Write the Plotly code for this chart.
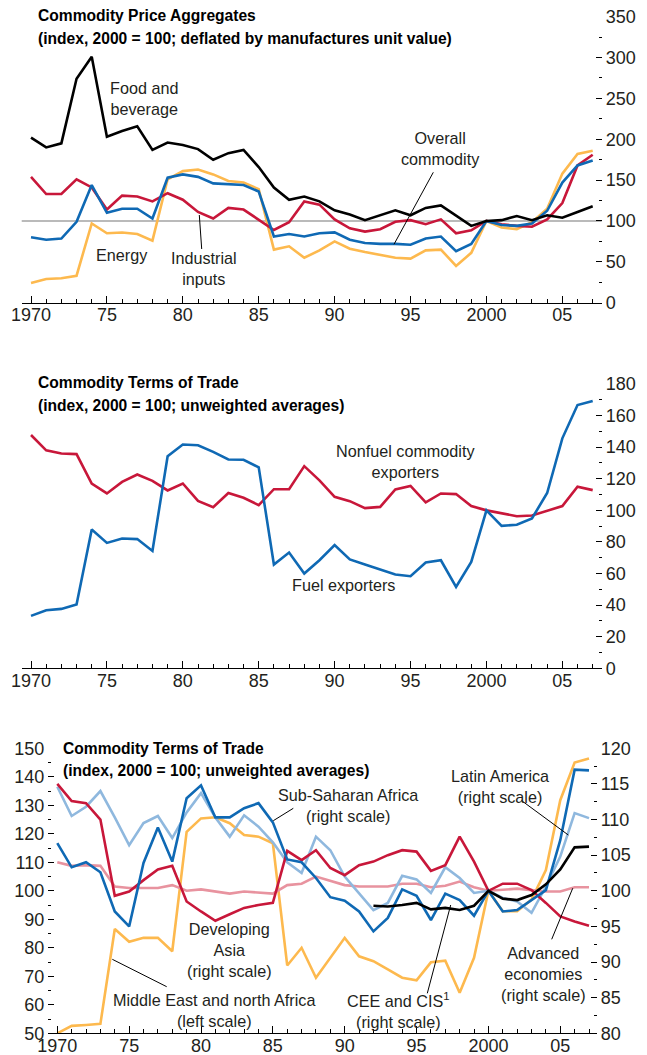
import plotly.graph_objects as go

# Page body has an 8px default margin: the figure is sized to fit the 647x1055 window.
OFF = 8
W, H = 647 - OFF, 1055 - OFF
FONT = "Liberation Sans, Arial, sans-serif"
INK = "#231f20"

years = list(range(1970, 2008))

# Panel 1: Commodity price aggregates (index, 2000 = 100)
food = [202, 190, 195, 274, 301, 203, 210, 216, 187, 196, 193, 188, 175, 183, 187, 166, 141, 126, 130, 124,
        113, 108, 101, 107, 113, 107, 116, 119, 107, 94, 100, 101, 106, 101, 107, 104, 111, 118]
energy = [24, 29, 30, 33, 97, 85, 86, 84, 76, 151, 161, 163, 157, 149, 147, 139, 65, 69, 55, 64,
          75, 66, 62, 58.5, 55, 54, 64, 65, 45, 61, 100, 92, 90, 98.5, 115, 158, 182, 186]
industrial = [154, 133, 133, 151, 141, 114, 131, 130, 124, 134, 126, 111, 103, 116, 114, 102, 89, 98.5, 124, 120,
              102, 91, 87, 90, 99, 101, 96, 102, 85, 88.5, 100, 96, 94, 93, 102, 122, 168, 181]
overall = [80, 77, 78.5, 99, 144, 110, 115, 115, 103, 153, 157, 154, 146, 145, 144, 136, 81, 84, 81, 85,
           86, 77, 73, 72, 72, 71, 78.5, 81, 63, 72, 100, 95, 94, 97, 112.5, 147, 168, 174]

# Panel 2: Commodity terms of trade by exporter type
nonfuel = [147.7, 138, 136, 135.6, 117, 110.7, 118, 122.7, 118.7, 112.6, 117, 106, 102, 111, 108, 103.3, 113.4, 113.4, 128, 119,
           108.6, 105.8, 101.4, 102.2, 113.2, 115.5, 105, 110.7, 110.3, 102.7, 100, 98, 96.3, 96.7, 99.7, 102.7, 115, 112.8]
fuel = [33.2, 36.8, 37.6, 40.4, 87.9, 79.4, 82.2, 81.8, 74.3, 134.3, 141.7, 141.2, 137, 132.2, 132, 127.2, 65.7, 73.3, 60, 68.4,
        78, 68.9, 65.7, 62.5, 59.4, 58.3, 67, 68.4, 51.5, 67.4, 100, 90.2, 90.9, 94.9, 111, 145.6, 166.7, 169.2]

# Panel 3: Commodity terms of trade by region
mena = [50, 52.6, 52.9, 53.3, 86.6, 82.1, 83.5, 83.5, 78.8, 120.7, 125.4, 125.8, 123.7, 119.6, 119, 116.7, 73.8, 80, 69.5, 76.5,
        83.5, 77, 75.3, 72.4, 69.5, 68.6, 74.9, 75.5, 64.2, 76.5, 100, 92.8, 92.8, 96.9, 107.3, 131.8, 145, 146.4]
ssa = [106.7, 103.3, 104, 102.6, 97.1, 95, 103.9, 108.9, 104.1, 113, 114.8, 110.3, 110.3, 111.6, 112.3, 109.6, 104.4, 104, 101.8, 99.1,
       98.6, 97.1, 94.3, 96.2, 100.2, 99.3, 95.9, 99.6, 98.7, 96.5, 100, 97.1, 97.3, 98.7, 100.1, 107.1, 117, 116.9]
latam = [114.6, 110.5, 111.8, 114, 110.3, 106.4, 109.5, 110.5, 107.4, 111, 113.7, 110.3, 107.6, 110.6, 109, 106.8, 104, 102.5, 107.6, 105.7,
         102, 99.7, 97.3, 98.3, 102.1, 101.6, 99.7, 103.3, 101.8, 99.7, 100, 99, 98.5, 96.9, 100.6, 104.8, 110.9, 110.2]
asia = [115, 112.6, 112.3, 110, 99.3, 99.9, 101.5, 103, 103.5, 98.5, 97.1, 95.8, 96.7, 97.6, 98, 98.3, 105.6, 104.3, 105.7, 103.2,
        102.2, 103.6, 104.1, 105, 105.7, 105.5, 102.8, 103.6, 107.6, 104.1, 100, 101, 101, 100.1, 98.3, 96.4, 95.7, 95.1]
advanced = [104, 103.5, 103.6, 103.5, 100.6, 100.4, 100.4, 100.4, 100.8, 100, 100.2, 99.9, 99.6, 99.9, 99.7, 99.6, 100.8, 101, 102, 101.4,
            100.8, 100.6, 100.6, 100.6, 101, 101, 100.5, 100.7, 101.3, 100.5, 100, 100.2, 100.3, 100.1, 99.9, 99.9, 100.5, 100.5]
cee_years = list(range(1992, 2008))
cee = [97.9, 97.8, 98, 98.3, 97.4, 97.6, 97.3, 97.9, 100, 98.9, 98.7, 99.4, 100.9, 103, 106.1, 106.2]

x_tickvals = [1970, 1975, 1980, 1985, 1990, 1995, 2000, 2005]
x_ticktext = ["1970", "75", "80", "85", "90", "95", "2000", "05"]

BLACK = "#000000"
YELLOW = "#fdb94e"
RED = "#c8173a"
BLUE = "#0f69b4"
LBLUE = "#8fb8de"
PINK = "#e8939f"
LW = 2.6


def fx(px):
    return (px - OFF) / W


def fy(py):
    return 1 - (py - OFF) / H


fig = go.Figure()


def line(x, y, color, xa, ya, width=LW):
    fig.add_trace(go.Scatter(x=x, y=y, mode="lines", line=dict(color=color, width=width),
                             xaxis=xa, yaxis=ya, showlegend=False, hoverinfo="skip"))


# Panel 1
line(years, energy, YELLOW, "x", "y")
line(years, industrial, RED, "x", "y")
line(years, overall, BLUE, "x", "y")
line(years, food, BLACK, "x", "y")
# Panel 2
line(years, nonfuel, RED, "x2", "y3")
line(years, fuel, BLUE, "x2", "y3")
# Panel 3
line(years, advanced, PINK, "x3", "y6")
line(years, mena, YELLOW, "x3", "y5")
line(years, latam, LBLUE, "x3", "y6")
line(years, asia, RED, "x3", "y6")
line(years, ssa, BLUE, "x3", "y6")
line(cee_years, cee, BLACK, "x3", "y6")

tickfont = dict(family=FONT, size=18, color=INK)


def xaxis(domain, rng, anchor):
    return dict(domain=domain, range=rng, anchor=anchor, tickmode="array", tickvals=x_tickvals,
                ticktext=x_ticktext, ticks="inside", ticklen=7, tickwidth=1.2, tickcolor=BLACK,
                minor=dict(tick0=1970, dtick=1, ticks="inside", ticklen=4, tickwidth=1.1, tickcolor=BLACK),
                showline=True, linecolor=BLACK, linewidth=1.3, showgrid=False, zeroline=False,
                tickfont=tickfont, ticklabelstandoff=-4, ticklabeloverflow="allow",
                automargin=False, fixedrange=True)


def yaxis(domain, rng, anchor, side, dtick, minor, labels, overlaying=None):
    d = dict(domain=domain, range=rng, anchor=anchor, side=side, tickmode="linear", tick0=rng[0], dtick=dtick,
             ticks="inside", ticklen=6, tickwidth=1.2, tickcolor=BLACK,
             minor=dict(tick0=rng[0], dtick=minor, ticks="inside", ticklen=3, tickwidth=1.1, tickcolor=BLACK),
             showline=False, showgrid=False, zeroline=False, showticklabels=labels,
             tickfont=tickfont, ticklabelstandoff=3, ticklabeloverflow="allow",
             automargin=False, fixedrange=True)
    if overlaying:
        d["overlaying"] = overlaying
    return d


P12_X = [fx(21.7), fx(601.7)]
P12_RANGE = [1969.387, 2007.593]
P1_Y = [fy(302.7), fy(16.7)]
P2_Y = [fy(668.3), fy(384)]
P3_X = [fx(48.3), fx(596.7)]
P3_RANGE = [1969.374, 2007.536]
P3_Y = [fy(1033.3), fy(748.3)]

fig.update_layout(
    width=W, height=H, margin=dict(l=0, r=0, t=0, b=0),
    paper_bgcolor="white", plot_bgcolor="white",
    font=dict(family=FONT, color=INK),
    xaxis=xaxis(P12_X, P12_RANGE, "y"),
    yaxis=yaxis(P1_Y, [0, 350], "x", "right", 50, 25, True),
    yaxis2=yaxis(P1_Y, [0, 350], "x", "left", 50, 25, False, overlaying="y"),
    xaxis2=xaxis(P12_X, P12_RANGE, "y3"),
    yaxis3=yaxis(P2_Y, [0, 180], "x2", "right", 20, 10, True),
    yaxis4=yaxis(P2_Y, [0, 180], "x2", "left", 20, 10, False, overlaying="y3"),
    xaxis3=xaxis(P3_X, P3_RANGE, "y5"),
    yaxis5=yaxis(P3_Y, [50, 150], "x3", "left", 10, 5, True),
    yaxis6=yaxis(P3_Y, [80, 120], "x3", "right", 5, 2.5, True, overlaying="y5"),
)

# Reference line at 100 in panel 1
fig.add_shape(type="line", xref="x domain", yref="y", x0=0, x1=1, y0=100, y1=100,
              line=dict(color="#777777", width=1.2), layer="below")


# Titles
def title(text, x, y):
    fig.add_annotation(text="<b>%s</b>" % text, xref="paper", yref="paper", x=fx(x), y=fy(y),
                       xanchor="left", yanchor="middle", showarrow=False,
                       font=dict(family=FONT, size=15.6, color=BLACK))


title("Commodity Price Aggregates", 36, 16)
title("(index, 2000 = 100; deflated by manufactures unit value)", 36, 38)
title("Commodity Terms of Trade", 36, 382)
title("(index, 2000 = 100; unweighted averages)", 36, 405)
title("Commodity Terms of Trade", 61, 748)
title("(index, 2000 = 100; unweighted averages)", 61, 770)


def label(text, x, y):
    fig.add_annotation(text=text, xref="paper", yref="paper", x=fx(x), y=fy(y),
                       xanchor="center", yanchor="middle", showarrow=False, align="center",
                       font=dict(family=FONT, size=16.2, color=INK))


def pointer(x0, y0, x1, y1):
    fig.add_shape(type="line", xref="paper", yref="paper", x0=fx(x0), y0=fy(y0), x1=fx(x1), y1=fy(y1),
                  line=dict(color=BLACK, width=1))


label("Food and<br>beverage", 144, 98)
label("Energy", 122, 255)
label("Industrial<br>inputs", 204, 268)
pointer(199.3, 215, 201.7, 249)
label("Overall<br>commodity", 440, 149)
pointer(433.3, 172.3, 394, 244.3)

label("Nonfuel commodity<br>exporters", 405, 462)
label("Fuel exporters", 343.5, 585)

label("Sub-Saharan Africa<br>(right scale)", 348, 805)
pointer(293.3, 808.3, 273.3, 820.7)
label("Latin America<br>(right scale)", 500, 786)
pointer(521.7, 800.7, 568.3, 835)
label("Developing<br>Asia<br>(right scale)", 229, 950)
label("Middle East and north Africa<br>(left scale)", 213.5, 1010)
pointer(166.7, 986.7, 112.3, 959.3)
label("CEE and CIS<sup>1</sup><br>(right scale)", 399, 1010)
pointer(427.3, 993.3, 450.7, 905)
label("Advanced<br>economies<br>(right scale)", 543.5, 974)
pointer(551.7, 939.3, 572.7, 888.3)

fig.write_html("out.html")
